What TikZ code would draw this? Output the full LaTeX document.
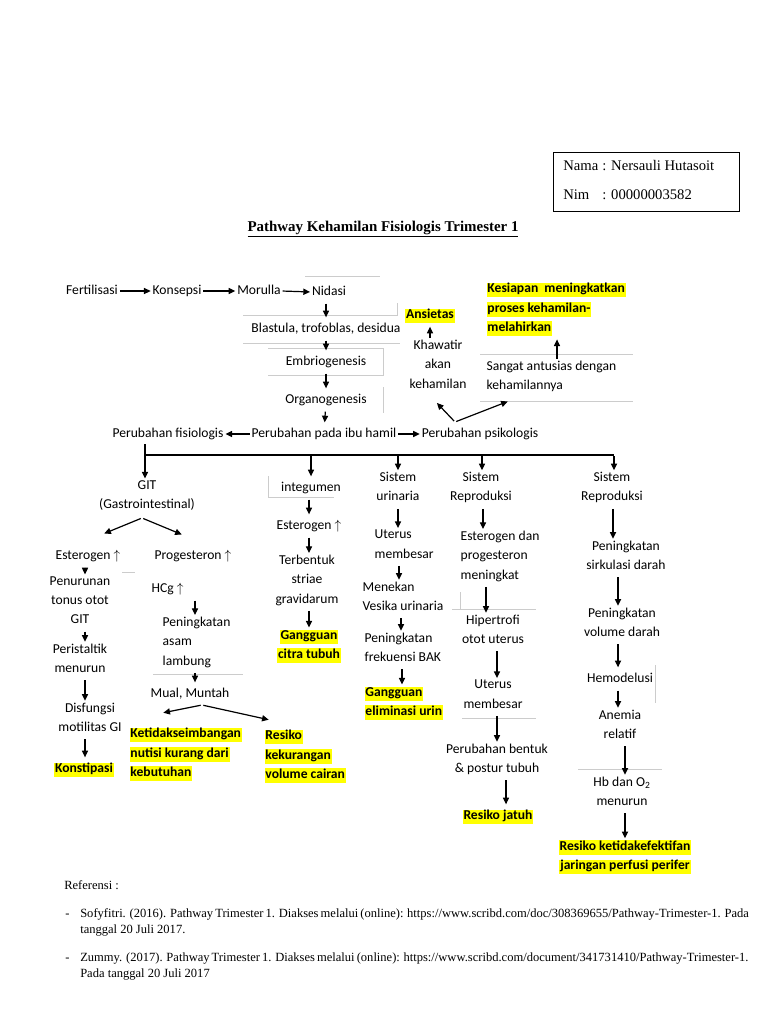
\documentclass[tikz,border=0pt]{standalone}
\usepackage{fontspec}
\setmainfont{Carlito}
\newfontfamily\tnr{Liberation Serif}
\usetikzlibrary{arrows.meta}
\definecolor{hlyellow}{RGB}{255,255,0}
\newcommand\fs{\fontsize{10.2}{14.5}\selectfont}
\newcommand\hly[1]{{\setlength{\fboxsep}{0.6pt}\colorbox{hlyellow}{\rule[-2.8pt]{0pt}{9.6pt}#1}}}
\begin{document}
\begin{tikzpicture}[x=0.75pt,y=-0.75pt,
  base/.style={inner sep=0.3pt, font=\fs, align=center, execute at begin node=\strut, execute at end node=\strut},
  lft/.style={base, align=left},
  hl/.style={font=\fs\bfseries},
  ln/.style={draw, line width=0.9pt},
  arr/.style={ln, -{Triangle[length=5pt,width=4.6pt]}, shorten <=1pt, shorten >=1pt},
  faint/.style={draw=black!20, line width=0.45pt},
  ser/.style={inner sep=0pt, font=\tnr\fontsize{11}{13}\selectfont},
  ref/.style={inner sep=0pt, font=\tnr\fontsize{9.4}{11}\selectfont, anchor=base west}]
\useasboundingbox (0,0) rectangle (768,1024);
\fill[white] (0,0) rectangle (768,1024);

% identity box
\node[draw, line width=0.8pt, minimum width=139.5pt, minimum height=44.25pt, anchor=north west, inner sep=0pt] (idbox) at (553,152) {};
\node[ser, anchor=base west] (nama) at (563,170) {Nama};
\node[ser, anchor=base west] (namav) at (602,170) {: Nersauli Hutasoit};
\node[ser, anchor=base west] (nim) at (563,199) {Nim};
\node[ser, anchor=base west] (nimv) at (602,199) {: 00000003582};

% title
\node[ser, font=\tnr\bfseries\fontsize{11.2}{14}\selectfont] (title) at (383,229) {\underline{Pathway Kehamilan Fisiologis Trimester 1}};

% faint leftover lines
\draw[faint] (305,276) -- (380,276);
\draw[faint] (243,315) -- (397,315) -- (397,303);
\draw[faint] (243,343) -- (400,343);
\draw[faint] (268,348) -- (383,348) -- (383,375) -- (268,375);
\draw[faint] (383,387) -- (383,413);
\draw[faint] (480,354) -- (633,354);
\draw[faint] (480,401) -- (633,401);
\draw[faint] (268,476) -- (268,497) -- (334,497);
\draw[faint] (122,572) -- (135,572);
\draw[faint] (153,674) -- (243,674);
\draw[faint] (460,592) -- (460,609);
\draw[faint] (452,609) -- (536,609);
\draw[faint] (462,718) -- (536,718);
\draw[faint] (655,665) -- (655,703);
\draw[faint] (578,769) -- (662,769);

% top row
\node[base] (fert) at (92,291) {Fertilisasi};
\node[base] (kons) at (177,291) {Konsepsi};
\node[base] (mor) at (259,291) {Morulla};
\node[base] (nid) at (329,292) {Nidasi};
\draw[arr] (fert.east) -- (kons.west);
\draw[arr] (kons.east) -- (mor.west);
\draw[arr] (mor.east) -- (nid.west);

\node[base] (blast) at (326,329) {Blastula, trofoblas, desidua};
\node[base] (emb) at (326,362) {Embriogenesis};
\node[base] (org) at (326,400) {Organogenesis};
\node[base] (ibu) at (324,434) {Perubahan pada ibu hamil};
\node[base] (fis) at (168,434) {Perubahan fisiologis};
\node[base] (psi) at (480,434) {Perubahan psikologis};
\draw[arr] (nid.south -| blast.north) -- (blast.north);
\draw[arr] (blast) -- (emb);
\draw[arr] (emb) -- (org);
\draw[arr] (org) -- (ibu);
\draw[arr] (ibu.west) -- (fis.east);
\draw[arr] (ibu.east) -- (psi.west);

% psychological branch
\node[base, hl] (ansi) at (430,315) {\hly{Ansietas}};
\node[base] (khaw) at (438,367) {Khawatir\\akan\\kehamilan};
\node[lft, hl, anchor=west] (kes) at (486,310) {\hly{Kesiapan\ \ meningkatkan}\\\hly{proses kehamilan-}\\\hly{melahirkan}};
\node[lft, anchor=west] (sang) at (486,378) {Sangat antusias dengan\\kehamilannya};
\coordinate (xK) at (557,0);
\coordinate (psiv) at (455,422);
\coordinate (psiL) at (436,402);
\coordinate (psiR) at (509,401);
\draw[arr] (khaw.north -| ansi.south) -- (ansi.south);
\draw[arr] (sang.north -| xK) -- (kes.south -| xK);
\draw[arr] (psiv) -- (psiL);
\draw[arr] (psiv) -- (psiR);

% bus
\coordinate (busL) at (145,455);
\coordinate (busR) at (614,455);
\draw[ln] (fis.south -| busL) -- (busL) -- (busR);

% column headers
\node[base] (git) at (147,497.5) {GIT\\(Gastrointestinal)};
\node[base] (integ) at (311,488) {integumen};
\node[base] (urin) at (398,489.5) {Sistem\\urinaria};
\node[base] (rep1) at (481,489.5) {Sistem\\Reproduksi};
\node[base] (rep2) at (612,489.5) {Sistem\\Reproduksi};
\coordinate (xI) at (311,0);
\coordinate (xU) at (398,0);
\coordinate (xR) at (482,0);
\draw[arr] (busL) -- (busL |- git.north);
\draw[arr] (busL -| xI) -- (integ.north -| xI);
\draw[arr] (busL -| xU) -- (urin.north -| xU);
\draw[arr] (busL -| xR) -- (rep1.north -| xR);
\draw[arr] (busR) -- (busR |- rep2.north);

% GIT column
\coordinate (gitL) at (103,534);
\coordinate (gitR) at (183,535);
\coordinate (gitv) at (142,518);
\draw[arr] (gitv) -- (gitL);
\draw[arr] (gitv) -- (gitR);
\node[base] (estL) at (88,556) {Esterogen $\uparrow$};
\node[base] (prog) at (193,556) {Progesteron $\uparrow$};
\node[base] (pen) at (80,603) {Penurunan\\tonus otot\\GIT};
\node[base] (peri) at (80,661) {Peristaltik\\menurun};
\node[base] (disf) at (90,720) {Disfungsi\\motilitas GI};
\node[base, hl] (konst) at (84,769) {\hly{Konstipasi}};
\coordinate (xA) at (85,0);
\draw[arr] (estL.south -| xA) -- (pen.north -| xA);
\draw[arr] (pen.south -| xA) -- (peri.north -| xA);
\draw[arr] (peri.south -| xA) -- (disf.north -| xA);
\draw[arr] (disf.south -| xA) -- (konst.north -| xA);

\node[base, anchor=west] (hcg) at (151,589) {HCg $\uparrow$};
\node[lft, anchor=west] (asam) at (162,644) {Peningkatan\\asam\\lambung};
\node[base] (mual) at (190,694) {Mual, Muntah};
\coordinate (xB) at (195,0);
\draw[arr] (hcg.south -| xB) -- (asam.north -| xB);
\draw[arr] (asam.south -| xB) -- (mual.north -| xB);
\coordinate (mualv) at (202,705);
\coordinate (mualL) at (162,713);
\coordinate (mualR) at (270,720);
\draw[arr] (mualv) -- (mualL);
\draw[arr] (mualv) -- (mualR);
\node[lft, hl, anchor=west] (keti) at (129,755) {\hly{Ketidakseimbangan}\\\hly{nutisi kurang dari}\\\hly{kebutuhan}};
\node[lft, hl, anchor=west] (resv) at (264,757) {\hly{Resiko}\\\hly{kekurangan}\\\hly{volume cairan}};

% integumen column
\node[base] (est2) at (309,526) {Esterogen $\uparrow$};
\node[base] (terb) at (307,582) {Terbentuk\\striae\\gravidarum};
\node[base, hl] (citra) at (309,647) {\hly{Gangguan}\\\hly{citra tubuh}};
\coordinate (xI2) at (309,0);
\draw[arr] (integ.south -| xI2) -- (est2.north -| xI2);
\draw[arr] (est2.south -| xI2) -- (terb.north -| xI2);
\draw[arr] (terb.south -| xI2) -- (citra.north -| xI2);

% urinaria column
\node[lft, anchor=west] (ut) at (374,547) {Uterus\\membesar};
\node[lft, anchor=west] (men) at (362,599) {Menekan\\Vesika urinaria};
\node[lft, anchor=west] (frek) at (364,650) {Peningkatan\\frekuensi BAK};
\node[lft, hl, anchor=west] (elim) at (364,704) {\hly{Gangguan}\\\hly{eliminasi urin}};
\coordinate (xU1) at (399,0);
\coordinate (xU2) at (401,0);
\coordinate (xU3) at (402,0);
\draw[arr] (urin.south -| xU) -- (ut.north -| xU);
\draw[arr] (ut.south -| xU1) -- (men.north -| xU1);
\draw[arr] (men.south -| xU2) -- (frek.north -| xU2);
\draw[arr] (frek.south -| xU3) -- (elim.north -| xU3);

% reproduksi column (middle)
\node[lft, anchor=west] (estdan) at (460,558) {Esterogen dan\\progesteron\\meningkat};
\node[base] (hip) at (493,632) {Hipertrofi\\otot uterus};
\node[base] (ut2) at (493,697) {Uterus\\membesar};
\node[base] (post) at (497,761) {Perubahan bentuk\\\& postur tubuh};
\node[base, hl] (jatuh) at (498,816) {\hly{Resiko jatuh}};
\coordinate (xR1) at (483,0);
\coordinate (xR2) at (486,0);
\coordinate (xR3) at (497,0);
\coordinate (xR4) at (506,0);
\draw[arr] (rep1.south -| xR1) -- (estdan.north -| xR1);
\draw[arr] (estdan.south -| xR2) -- (hip.north -| xR2);
\draw[arr] (hip.south -| xR3) -- (ut2.north -| xR3);
\draw[arr] (ut2.south -| xR3) -- (post.north -| xR3);
\draw[arr] (post.south -| xR4) -- (jatuh.north -| xR4);

% reproduksi column (right)
\node[base] (sirk) at (626,558) {Peningkatan\\sirkulasi darah};
\node[base] (vol) at (622,625) {Peningkatan\\volume darah};
\node[base] (hemo) at (620,679) {Hemodelusi};
\node[base] (anem) at (620,727) {Anemia\\relatif};
\node[base] (hb) at (622,794) {Hb dan O\textsubscript{2}\\menurun};
\node[base, hl] (perf) at (625,858) {\hly{Resiko ketidakefektifan}\\\hly{jaringan perfusi perifer}};
\coordinate (xS0) at (613,0);
\coordinate (xS1) at (618,0);
\coordinate (xS2) at (625,0);
\draw[arr] (rep2.south -| xS0) -- (sirk.north -| xS0);
\draw[arr] (sirk.south -| xS1) -- (vol.north -| xS1);
\draw[arr] (vol.south -| xS1) -- (hemo.north -| xS1);
\draw[arr] (hemo.south -| xS1) -- (anem.north -| xS1);
\draw[arr] (anem.south -| xS2) -- (hb.north -| xS2);
\draw[arr] (hb.south -| xS2) -- (perf.north -| xS2);

% references
\node[ref] (refh) at (64,889) {Referensi :};
\node[ref] (d1) at (65,917) {-};
\node[ref] (r1a) at (80,917) {\makebox[488pt][s]{Sofyfitri. (2016). Pathway Trimester 1. Diakses melalui (online): https://www.scribd.com/doc/308369655/Pathway-Trimester-1. Pada}};
\node[ref] (r1b) at (80,933) {tanggal 20 Juli 2017.};
\node[ref] (d2) at (65,961) {-};
\node[ref] (r2a) at (80,961) {\makebox[486pt][s]{Zummy. (2017). Pathway Trimester 1. Diakses melalui (online): https://www.scribd.com/document/341731410/Pathway-Trimester-1.}};
\node[ref] (r2b) at (80,977) {Pada tanggal 20 Juli 2017};
\end{tikzpicture}
\end{document}
